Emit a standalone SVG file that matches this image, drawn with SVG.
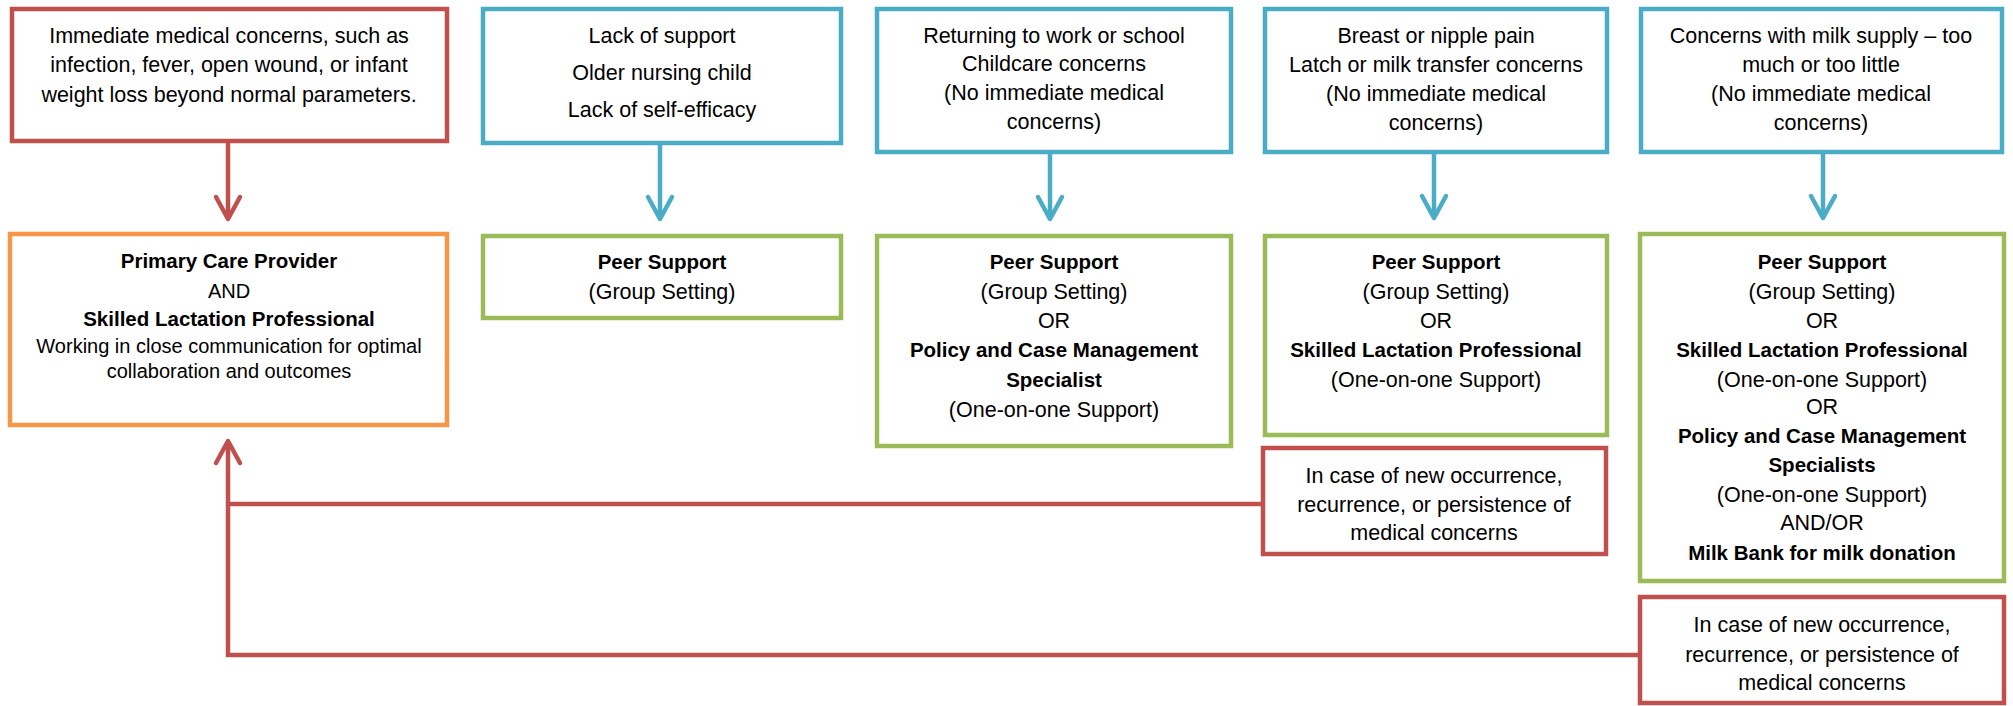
<svg xmlns="http://www.w3.org/2000/svg" width="2013" height="706" viewBox="0 0 2013 706">
<style>
.box{fill:#fff;stroke-width:4.5}
.red{stroke:#C0504D}
.blue{stroke:#4BACC6}
.green{stroke:#9BBB59}
.orange{stroke:#F79646}
text{font-family:"Liberation Sans",Arial,sans-serif;font-size:21.5px;fill:#000;text-anchor:middle}
.b{font-weight:bold;font-size:20.5px}
.s{font-size:20px}
.conn{fill:none;stroke-width:4.5}
</style>
<defs>
<marker id="ahRed" markerUnits="userSpaceOnUse" orient="auto" refX="0" refY="0" overflow="visible">
<path d="M-22,-12 L0,0 L-22,12" fill="none" stroke="#C0504D" stroke-width="4.5" stroke-linecap="round" stroke-linejoin="round"/>
</marker>
<marker id="ahBlue" markerUnits="userSpaceOnUse" orient="auto" refX="0" refY="0" overflow="visible">
<path d="M-22,-12 L0,0 L-22,12" fill="none" stroke="#4BACC6" stroke-width="4.5" stroke-linecap="round" stroke-linejoin="round"/>
</marker>
</defs>
<rect width="2013" height="706" fill="#fff"/>

<g id="connectors">
<path class="conn red" d="M228,143 V219" marker-end="url(#ahRed)"/>
<path class="conn blue" d="M660,145 V219" marker-end="url(#ahBlue)"/>
<path class="conn blue" d="M1050,154 V219" marker-end="url(#ahBlue)"/>
<path class="conn blue" d="M1434,154 V218" marker-end="url(#ahBlue)"/>
<path class="conn blue" d="M1823,154 V218" marker-end="url(#ahBlue)"/>
<path class="conn red" d="M1263,504 H228"/>
<path class="conn red" d="M1640,655 H228 V441" marker-end="url(#ahRed)"/>
</g>

<g id="n-medical">
<rect class="box red" x="12" y="9" width="435" height="132"/>
<text x="229" y="43">Immediate medical concerns, such as</text>
<text x="229" y="72">infection, fever, open wound, or infant</text>
<text x="229" y="102">weight loss beyond normal parameters.</text>
</g>

<g id="n-support">
<rect class="box blue" x="483" y="9" width="358" height="134"/>
<text x="662" y="43">Lack of support</text>
<text x="662" y="80">Older nursing child</text>
<text x="662" y="117">Lack of self-efficacy</text>
</g>

<g id="n-work">
<rect class="box blue" x="877" y="9" width="354" height="143"/>
<text x="1054" y="43">Returning to work or school</text>
<text x="1054" y="71">Childcare concerns</text>
<text x="1054" y="100">(No immediate medical</text>
<text x="1054" y="129">concerns)</text>
</g>

<g id="n-pain">
<rect class="box blue" x="1265" y="9" width="342" height="143"/>
<text x="1436" y="43">Breast or nipple pain</text>
<text x="1436" y="72">Latch or milk transfer concerns</text>
<text x="1436" y="101">(No immediate medical</text>
<text x="1436" y="130">concerns)</text>
</g>

<g id="n-supply">
<rect class="box blue" x="1641" y="9" width="361" height="143"/>
<text x="1821" y="43">Concerns with milk supply – too</text>
<text x="1821" y="72">much or too little</text>
<text x="1821" y="101">(No immediate medical</text>
<text x="1821" y="130">concerns)</text>
</g>

<g id="n-primary">
<rect class="box orange" x="10" y="234" width="437" height="191"/>
<text class="b" x="229" y="268">Primary Care Provider</text>
<text class="s" x="229" y="298">AND</text>
<text class="b" x="229" y="326">Skilled Lactation Professional</text>
<text class="s" x="229" y="353">Working in close communication for optimal</text>
<text class="s" x="229" y="378">collaboration and outcomes</text>
</g>

<g id="n-peer1">
<rect class="box green" x="483" y="236" width="358" height="82"/>
<text class="b" x="662" y="269">Peer Support</text>
<text x="662" y="299">(Group Setting)</text>
</g>

<g id="n-peer2">
<rect class="box green" x="877" y="236" width="354" height="210"/>
<text class="b" x="1054" y="269">Peer Support</text>
<text x="1054" y="299">(Group Setting)</text>
<text x="1054" y="328">OR</text>
<text class="b" x="1054" y="357">Policy and Case Management</text>
<text class="b" x="1054" y="387">Specialist</text>
<text x="1054" y="417">(One-on-one Support)</text>
</g>

<g id="n-peer3">
<rect class="box green" x="1265" y="236" width="342" height="199"/>
<text class="b" x="1436" y="269">Peer Support</text>
<text x="1436" y="299">(Group Setting)</text>
<text x="1436" y="328">OR</text>
<text class="b" x="1436" y="357">Skilled Lactation Professional</text>
<text x="1436" y="387">(One-on-one Support)</text>
</g>

<g id="n-recur1">
<rect class="box red" x="1263" y="448" width="343" height="106"/>
<text x="1434" y="483">In case of new occurrence,</text>
<text x="1434" y="512">recurrence, or persistence of</text>
<text x="1434" y="540">medical concerns</text>
</g>

<g id="n-peer4">
<rect class="box green" x="1640" y="234" width="364" height="347"/>
<text class="b" x="1822" y="269">Peer Support</text>
<text x="1822" y="299">(Group Setting)</text>
<text x="1822" y="328">OR</text>
<text class="b" x="1822" y="357">Skilled Lactation Professional</text>
<text x="1822" y="387">(One-on-one Support)</text>
<text x="1822" y="414">OR</text>
<text class="b" x="1822" y="443">Policy and Case Management</text>
<text class="b" x="1822" y="472">Specialists</text>
<text x="1822" y="502">(One-on-one Support)</text>
<text x="1822" y="530">AND/OR</text>
<text class="b" x="1822" y="560">Milk Bank for milk donation</text>
</g>

<g id="n-recur2">
<rect class="box red" x="1640" y="597" width="364" height="106"/>
<text x="1822" y="632">In case of new occurrence,</text>
<text x="1822" y="662">recurrence, or persistence of</text>
<text x="1822" y="690">medical concerns</text>
</g>
</svg>
